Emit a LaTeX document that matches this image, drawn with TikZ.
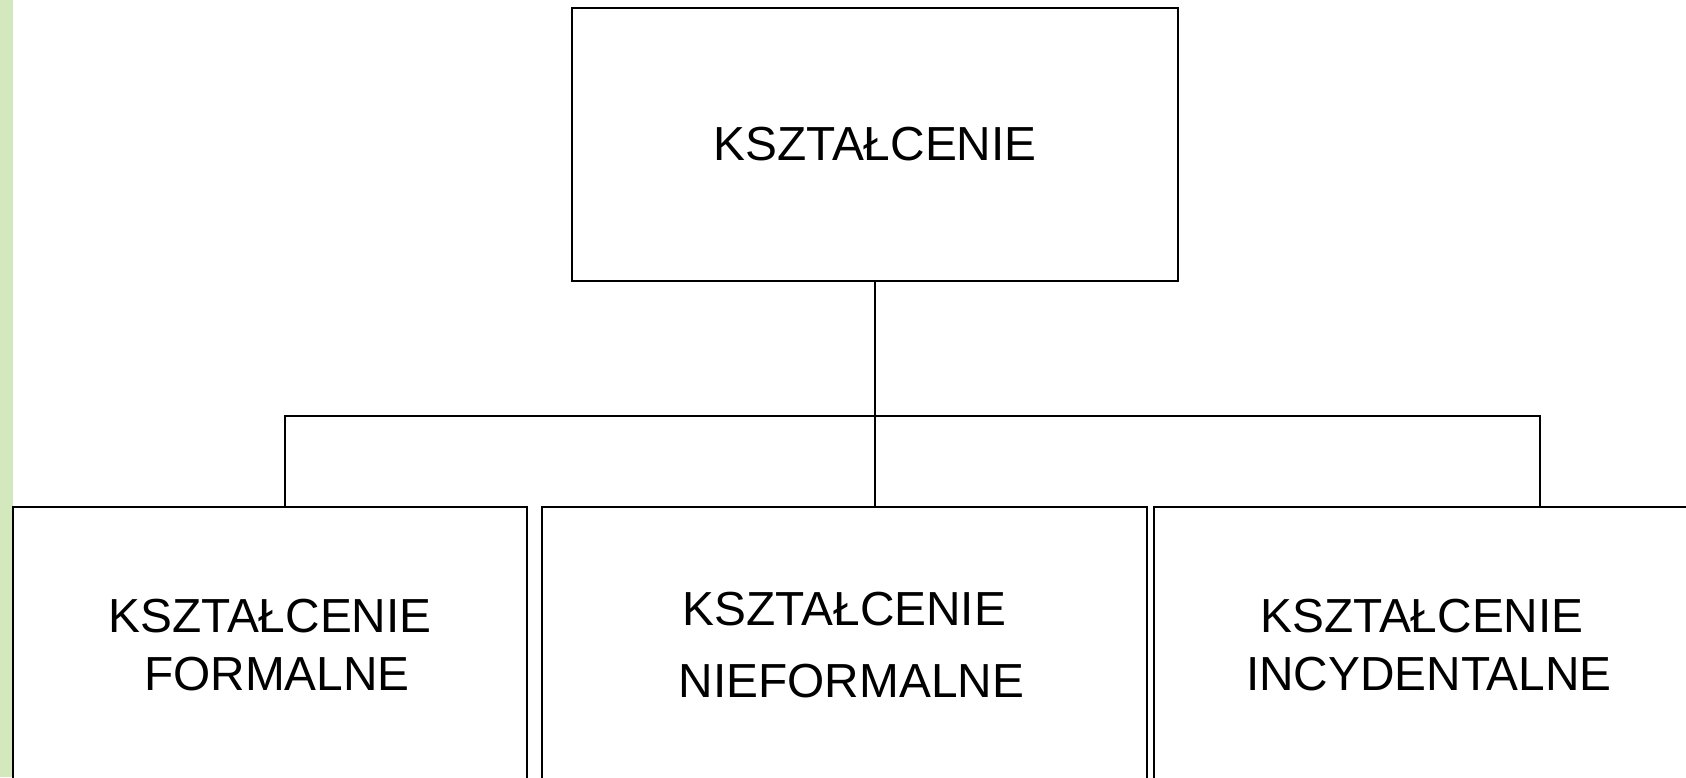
\documentclass[tikz,border=0pt]{standalone}
\usepackage{fontspec}
\setmainfont{Liberation Sans}
\definecolor{stripgreen}{RGB}{211,232,188}
\begin{document}
\begin{tikzpicture}[x=0.5pt, y=-0.5pt, font=\fontsize{23.9}{29}\selectfont, every node/.style={draw, line width=1.4pt, align=center, inner sep=0pt, outer sep=0pt}, line width=1.4pt, line join=miter]
        \clip (0,0) rectangle (1686,777);
        \fill[stripgreen] (0,0) rectangle (13,777);
        \node[minimum width=303pt, minimum height=136.5pt] (top) at (875, 144.5) {KSZTAŁCENIE};
        \node[minimum width=257pt, minimum height=138pt] (formal) at (270, 645) {KSZTAŁCENIE\\\hspace*{7pt}FORMALNE};
        \node[minimum width=302.5pt, minimum height=138pt] (nonformal) at (844.5, 645) {KSZTAŁCENIE\\[7pt]\hspace*{7pt}NIEFORMALNE};
        \node[minimum width=268pt, minimum height=138pt] (incidental) at (1422, 645) {KSZTAŁCENIE\\\hspace*{7pt}INCYDENTALNE};
        \coordinate (busL) at (285, 416);
        \coordinate (busM) at (875, 416);
        \coordinate (busR) at (1540, 416);
        \draw (top.south) -- (busM) -- (busM |- nonformal.north);
        \draw (busL |- formal.north) -- (busL) -- (busR) -- (busR |- incidental.north);
    \end{tikzpicture}
\end{document}
